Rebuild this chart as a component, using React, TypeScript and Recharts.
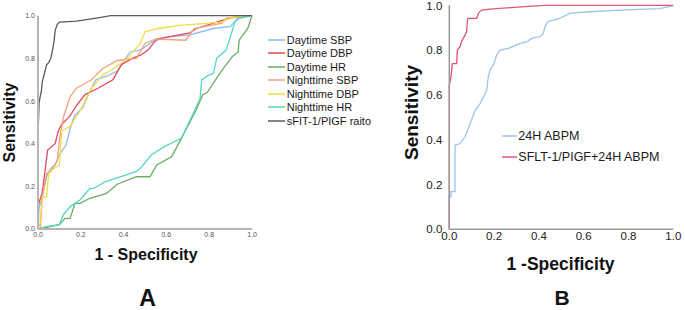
import { LineChart, Line, XAxis, YAxis, Legend } from "recharts";

type Pt = { fpr: number; tpr: number };
const pts = (pairs: number[][]): Pt[] => pairs.map(([fpr, tpr]) => ({ fpr, tpr }));

// panel A: ROC curves (1 - specificity, sensitivity)
const daytimeSbp = pts([
  [0, 0], [0.005, 0.1], [0.015, 0.13], [0.03, 0.2], [0.045, 0.26], [0.065, 0.29], [0.08, 0.3],
  [0.1, 0.35], [0.13, 0.39], [0.15, 0.47], [0.17, 0.53], [0.21, 0.57], [0.24, 0.64], [0.27, 0.7],
  [0.33, 0.72], [0.37, 0.74], [0.41, 0.8], [0.43, 0.83], [0.48, 0.84], [0.51, 0.86], [0.54, 0.88],
  [0.6, 0.9], [0.71, 0.91], [0.82, 0.94], [0.9, 0.95], [0.93, 0.985], [1, 1],
]);
const daytimeDbp = pts([
  [0, 0], [0, 0.105], [0.01, 0.14], [0.02, 0.17], [0.03, 0.25], [0.045, 0.37], [0.08, 0.4],
  [0.095, 0.46], [0.11, 0.49], [0.15, 0.53], [0.18, 0.58], [0.22, 0.63], [0.28, 0.66], [0.35, 0.7],
  [0.39, 0.77], [0.44, 0.8], [0.48, 0.815], [0.515, 0.84], [0.555, 0.89], [0.71, 0.92], [0.74, 0.94],
  [0.85, 0.975], [0.9, 0.99], [1, 1],
]);
const daytimeHr = pts([
  [0, 0], [0.03, 0.005], [0.1, 0.02], [0.126, 0.05], [0.15, 0.05], [0.173, 0.12], [0.196, 0.12],
  [0.243, 0.144], [0.32, 0.167], [0.37, 0.21], [0.46, 0.245], [0.523, 0.245], [0.555, 0.3],
  [0.625, 0.34], [0.67, 0.425], [0.74, 0.56], [0.77, 0.63], [0.79, 0.64], [0.86, 0.745],
  [0.91, 0.81], [0.935, 0.83], [0.94, 0.885], [0.98, 0.94], [1, 1],
]);
const nighttimeSbp = pts([
  [0, 0], [0.01, 0], [0.015, 0.06], [0.02, 0.15], [0.04, 0.26], [0.06, 0.27], [0.09, 0.32],
  [0.1, 0.42], [0.12, 0.53], [0.15, 0.62], [0.18, 0.66], [0.25, 0.7], [0.3, 0.75], [0.37, 0.79],
  [0.46, 0.8], [0.5, 0.87], [0.55, 0.89], [0.69, 0.885], [0.73, 0.94], [0.86, 0.965], [0.88, 0.99],
  [1, 1],
]);
const nighttimeDbp = pts([
  [0, 0], [0.01, 0.03], [0.02, 0.15], [0.04, 0.15], [0.05, 0.26], [0.07, 0.28], [0.1, 0.3],
  [0.11, 0.46], [0.15, 0.48], [0.2, 0.56], [0.25, 0.66], [0.3, 0.72], [0.35, 0.75], [0.42, 0.8],
  [0.477, 0.87], [0.5, 0.925], [0.56, 0.94], [0.66, 0.955], [0.86, 0.97], [0.89, 0.99], [1, 1],
]);
const nighttimeHr = pts([
  [0, 0], [0.03, 0.01], [0.1, 0.02], [0.118, 0.066], [0.15, 0.105], [0.196, 0.136], [0.243, 0.19],
  [0.26, 0.19], [0.31, 0.22], [0.37, 0.24], [0.46, 0.27], [0.477, 0.284], [0.53, 0.347],
  [0.59, 0.386], [0.67, 0.425], [0.718, 0.526], [0.757, 0.61], [0.765, 0.7], [0.796, 0.72],
  [0.82, 0.73], [0.835, 0.8], [0.88, 0.84], [0.92, 0.97], [0.94, 0.99], [1, 1],
]);
const sfltRatio = pts([
  [0, 0], [0, 0.44], [0.005, 0.59], [0.01, 0.62], [0.015, 0.64], [0.02, 0.69], [0.03, 0.73],
  [0.04, 0.77], [0.05, 0.78], [0.06, 0.8], [0.07, 0.85], [0.075, 0.88], [0.08, 0.93], [0.09, 0.96],
  [0.1, 0.97], [0.18, 0.975], [0.28, 0.99], [0.34, 1], [1, 1],
]);

// panel B
const abpm24h = pts([
  [0, 0], [0, 0.146], [0.0076, 0.146], [0.0076, 0.168], [0.0254, 0.168], [0.0254, 0.376],
  [0.048, 0.383], [0.07, 0.413], [0.092, 0.47], [0.115, 0.53], [0.137, 0.56], [0.152, 0.59],
  [0.167, 0.62], [0.174, 0.68], [0.182, 0.71], [0.196, 0.733], [0.204, 0.755], [0.211, 0.777],
  [0.226, 0.8], [0.264, 0.808], [0.293, 0.82], [0.316, 0.83], [0.345, 0.837], [0.368, 0.852],
  [0.405, 0.86], [0.42, 0.875], [0.427, 0.905], [0.44, 0.927], [0.49, 0.94], [0.54, 0.965],
  [0.61, 0.97], [0.79, 0.98], [0.94, 0.985], [0.985, 0.995], [1, 1],
]);
const sfltPlusAbpm = pts([
  [0, 0], [0, 0.644], [0.0076, 0.68], [0.0135, 0.74], [0.033, 0.74], [0.036, 0.8], [0.048, 0.815],
  [0.055, 0.84], [0.07, 0.867], [0.077, 0.882], [0.082, 0.942], [0.122, 0.942], [0.13, 0.964],
  [0.144, 0.979], [0.182, 0.983], [0.338, 0.994], [0.427, 1], [1, 1],
]);

const ticks = [0, 0.2, 0.4, 0.6, 0.8, 1];

const seriesA = [
  { name: "Daytime SBP", data: daytimeSbp, color: "#8dbcec" },
  { name: "Daytime DBP", data: daytimeDbp, color: "#e8455f" },
  { name: "Daytime HR", data: daytimeHr, color: "#68ad60" },
  { name: "Nighttime SBP", data: nighttimeSbp, color: "#f6a07e" },
  { name: "Nighttime DBP", data: nighttimeDbp, color: "#f1dc42" },
  { name: "Nighttime HR", data: nighttimeHr, color: "#55d6c6" },
  { name: "sFIT-1/PIGF raito", data: sfltRatio, color: "#5a5a5a" },
];
const seriesB = [
  { name: "24H ABPM", data: abpm24h, color: "#9cc4ee" },
  { name: "SFLT-1/PIGF+24H ABPM", data: sfltPlusAbpm, color: "#e2546f" },
];

const FONT = "Arial, 'Liberation Sans', sans-serif";

function LegendList({ items, rowH, fontSize, lineW, gap }: any) {
  return (
    <div style={{ fontFamily: FONT, fontSize, color: "#1a1a1a", whiteSpace: "nowrap" }}>
      {items.map((s: any) => (
        <div key={s.name} style={{ height: rowH, display: "flex", alignItems: "center" }}>
          <svg width={lineW} height={6} style={{ marginRight: gap, flex: "none" }}>
            <line x1={0} y1={3} x2={lineW} y2={3} stroke={s.color} strokeWidth={1.5} />
          </svg>
          <span>{s.name}</span>
        </div>
      ))}
    </div>
  );
}

const fmt = (v: number) => v.toFixed(1);

export default function App() {
  return (
    <div style={{ position: "absolute", left: 0, top: 0, width: 685, height: 310, background: "#fff" }}>
      <div style={{ position: "absolute", left: 0, top: 0 }}>
        <LineChart width={370} height={240} margin={{ top: 15.7, right: 118, left: 8, bottom: 0 }}>
          <XAxis
            type="number" dataKey="fpr" domain={[0, 1]} ticks={ticks} tickFormatter={fmt}
            height={11} tickLine={false} tickSize={2} tickMargin={1}
            axisLine={{ stroke: "#b5b5b5", strokeWidth: 2 }}
            tick={{ fontSize: 7, fill: "#555", fontFamily: FONT }}
          />
          <YAxis
            type="number" dataKey="tpr" domain={[0, 1]} ticks={ticks} tickFormatter={fmt}
            width={30} tickLine={false} tickSize={2} tickMargin={1}
            axisLine={{ stroke: "#b5b5b5", strokeWidth: 2 }}
            tick={{ fontSize: 7, fill: "#555", fontFamily: FONT }}
          />
          {seriesA.map((s) => (
            <Line
              key={s.name} data={s.data} dataKey="tpr" name={s.name} type="linear"
              stroke={s.color} strokeWidth={1.3} dot={false} legendType="plainline"
              isAnimationActive={false}
            />
          ))}
          <Legend
            layout="vertical" align="center" verticalAlign="middle"
            wrapperStyle={{ left: 268, top: 33.3 }}
            content={() => <LegendList items={seriesA} rowH={13.45} fontSize={11} lineW={17} gap={1.7} />}
          />
        </LineChart>
      </div>
      <div style={{ position: "absolute", left: 400, top: 0 }}>
        <LineChart width={285} height={241} margin={{ top: 5.3, right: 11.7, left: 9.3, bottom: 0.7 }}>
          <XAxis
            type="number" dataKey="fpr" domain={[0, 1]} ticks={ticks} tickFormatter={fmt}
            height={11} tickLine={false} tickSize={2} tickMargin={1}
            axisLine={{ stroke: "#9a9a9a", strokeWidth: 1.5 }}
            tick={{ fontSize: 11.5, fill: "#222", fontFamily: FONT }}
          />
          <YAxis
            type="number" dataKey="tpr" domain={[0, 1]} ticks={ticks} tickFormatter={fmt}
            width={40} tickLine={false} tickSize={4} tickMargin={3}
            axisLine={{ stroke: "#9a9a9a", strokeWidth: 1.5 }}
            tick={{ fontSize: 11.5, fill: "#222", fontFamily: FONT }}
          />
          {seriesB.map((s) => (
            <Line
              key={s.name} data={s.data} dataKey="tpr" name={s.name} type="linear"
              stroke={s.color} strokeWidth={1.3} dot={false} legendType="plainline"
              isAnimationActive={false}
            />
          ))}
          <Legend
            layout="vertical" align="center" verticalAlign="middle"
            wrapperStyle={{ left: 102, top: 125.2 }}
            content={() => <LegendList items={seriesB} rowH={21} fontSize={12.5} lineW={15} gap={1.3} />}
          />
        </LineChart>
      </div>
      <svg width={685} height={310} style={{ position: "absolute", left: 0, top: 0, pointerEvents: "none" }}>
        <g fontFamily={FONT} fontWeight="bold" fill="#111" textAnchor="middle">
          <text transform="translate(15,122.5) rotate(-90)" fontSize={16}>Sensitivity</text>
          <text x={146} y={260} fontSize={16}>1 - Specificity</text>
          <text x={147.5} y={305.5} fontSize={23}>A</text>
          <text transform="translate(418,112.5) rotate(-90)" fontSize={19}>Sensitivity</text>
          <text x={560.5} y={270} fontSize={17.5}>1 -Specificity</text>
          <text x={562} y={305} fontSize={21}>B</text>
        </g>
      </svg>
    </div>
  );
}
